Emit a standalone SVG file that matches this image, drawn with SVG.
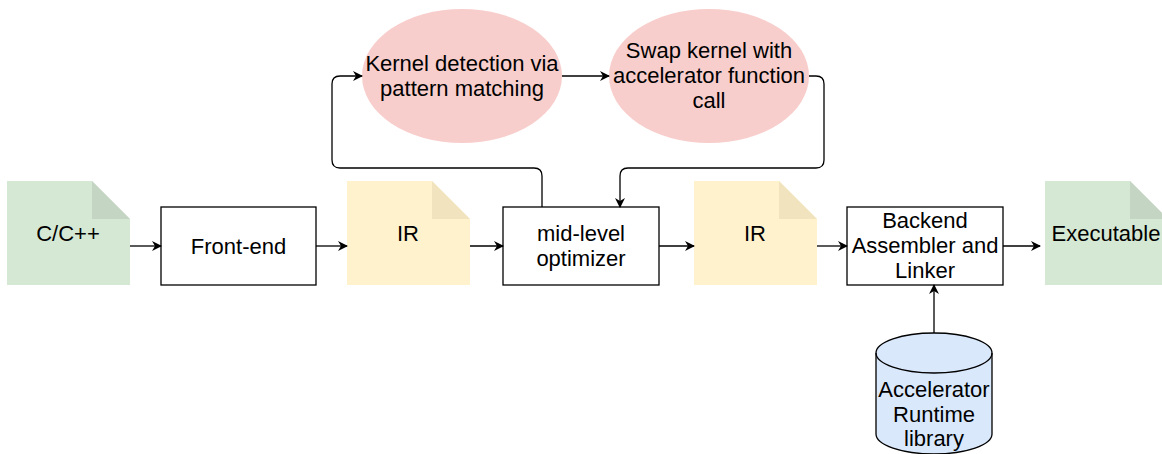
<svg xmlns="http://www.w3.org/2000/svg" width="1162" height="454" viewBox="0 0 1162 454">
<defs>
<style>
text{font-family:"Liberation Sans",Arial,Helvetica,sans-serif;font-size:22px;fill:#000;text-anchor:middle}
.box{fill:#fff;stroke:#000;stroke-width:1.3}
.gn{fill:#d5e8d4}.gf{fill:#c4d6c3}
.yn{fill:#fff2cc}.yf{fill:#f1e3bd}
.ell{fill:#f8cecc}
.cyl{fill:#dae8fc;stroke:#000;stroke-width:1.3}
.edge{fill:none;stroke:#000;stroke-width:1.3}
</style>
<marker id="arr" viewBox="0 0 10 10" refX="9" refY="5" markerWidth="10" markerHeight="10" markerUnits="userSpaceOnUse" orient="auto">
<path d="M0,0 L10,5 L0,10 L3,5 Z" fill="#000"/>
</marker>
</defs>
<g id="node-cpp">
<path class="gn" d="M7,181 H92 L130,219 V285 H7 Z"/>
<path class="gf" d="M92,181 L130,219 H92 Z"/>
<text x="68" y="241">C/C++</text>
</g>
<g id="node-frontend">
<rect class="box" x="161" y="207" width="155" height="78"/>
<text x="238.5" y="254">Front-end</text>
</g>
<g id="node-ir1">
<path class="yn" d="M347,181 H432 L470,219 V285 H347 Z"/>
<path class="yf" d="M432,181 L470,219 H432 Z"/>
<text x="408" y="241">IR</text>
</g>
<g id="node-mid">
<rect class="box" x="503" y="207" width="156" height="78"/>
<text x="581" y="241">mid-level</text>
<text x="581" y="266">optimizer</text>
</g>
<g id="node-ir2">
<path class="yn" d="M694,181 H779 L817,219 V285 H694 Z"/>
<path class="yf" d="M779,181 L817,219 H779 Z"/>
<text x="755" y="241">IR</text>
</g>
<g id="node-backend">
<rect class="box" x="847" y="207" width="156" height="78"/>
<text x="925" y="228">Backend</text>
<text x="925" y="253">Assembler and</text>
<text x="925" y="278">Linker</text>
</g>
<g id="node-exe">
<path class="gn" d="M1045,181 H1130 L1168,219 V285 H1045 Z"/>
<path class="gf" d="M1130,181 L1168,219 H1130 Z"/>
<text x="1106" y="241">Executable</text>
</g>
<g id="node-kernel">
<ellipse class="ell" cx="462" cy="76" rx="100" ry="67"/>
<text x="462" y="71">Kernel detection via</text>
<text x="462" y="96">pattern matching</text>
</g>
<g id="node-swap">
<ellipse class="ell" cx="709" cy="76" rx="100" ry="67"/>
<text x="709" y="58">Swap kernel with</text>
<text x="709" y="83">accelerator function</text>
<text x="709" y="108">call</text>
</g>
<g id="node-lib">
<path class="cyl" d="M876,353 A58,20 0 0 1 992,353 V434 A58,20 0 0 1 876,434 Z"/>
<path class="edge" d="M876,353 A58,20 0 0 0 992,353"/>
<text x="934" y="397">Accelerator</text>
<text x="934" y="422">Runtime</text>
<text x="934" y="446">library</text>
</g>
<g id="connectors">
<path class="edge" marker-end="url(#arr)" d="M130,246 H161"/>
<path class="edge" marker-end="url(#arr)" d="M316,246 H347"/>
<path class="edge" marker-end="url(#arr)" d="M470,246 H503"/>
<path class="edge" marker-end="url(#arr)" d="M659,246 H694"/>
<path class="edge" marker-end="url(#arr)" d="M817,246 H847"/>
<path class="edge" marker-end="url(#arr)" d="M1003,246 H1040"/>
<path class="edge" marker-end="url(#arr)" d="M934,333 V285"/>
<path class="edge" marker-end="url(#arr)" d="M542,207 V176 Q542,168 534,168 H340 Q332,168 332,160 V84 Q332,76 340,76 H362"/>
<path class="edge" marker-end="url(#arr)" d="M562,76 H609"/>
<path class="edge" marker-end="url(#arr)" d="M809,76 H816 Q824,76 824,84 V160 Q824,168 816,168 H628 Q620,168 620,176 V207"/>
</g>
</svg>
